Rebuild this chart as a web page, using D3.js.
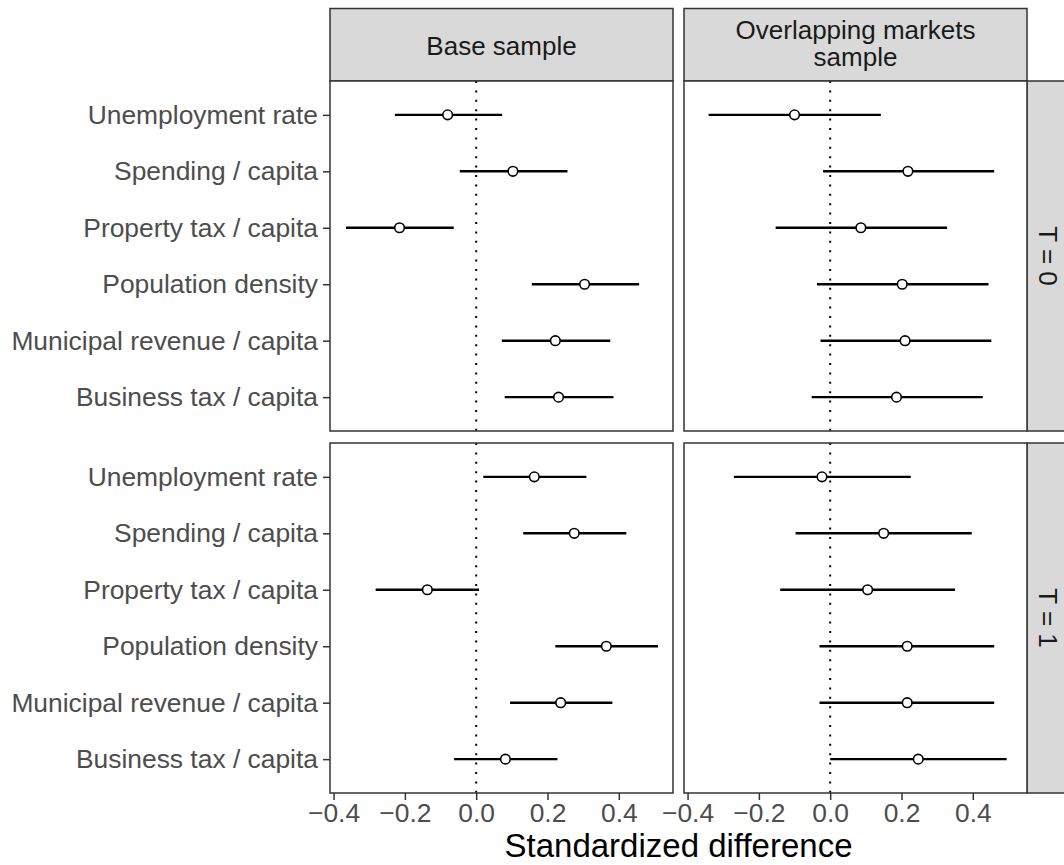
<!DOCTYPE html>
<html lang="en">
<head>
    <meta charset="UTF-8">
    <title>Standardized difference</title>
    <script src="https://cdnjs.cloudflare.com/ajax/libs/d3/7.8.5/d3.min.js"></script>
    <style>
        body { margin: 0; background: #ffffff; }
        text { font-family: "Liberation Sans", Arial, sans-serif; }
    </style>
</head>
<body>
    <script>
        // row labels (top to bottom)
        var categories = ["Unemployment rate", "Spending / capita", "Property tax / capita",
                          "Population density", "Municipal revenue / capita", "Business tax / capita"];
        var samples = [["Base sample"], ["Overlapping markets", "sample"]];
        var groups = ["T = 0", "T = 1"];
        var xTicks = [-0.4, -0.2, 0, 0.2, 0.4];

        // Base sample, T = 0
        var baseT0Est = [-0.080, 0.103, -0.215, 0.304, 0.222, 0.231];
        var baseT0Lo  = [-0.228, -0.046, -0.365, 0.156, 0.072, 0.080];
        var baseT0Hi  = [0.073, 0.256, -0.063, 0.457, 0.376, 0.385];
        // Overlapping markets sample, T = 0
        var overT0Est = [-0.100, 0.218, 0.086, 0.202, 0.210, 0.186];
        var overT0Lo  = [-0.341, -0.020, -0.153, -0.037, -0.027, -0.052];
        var overT0Hi  = [0.142, 0.460, 0.328, 0.444, 0.452, 0.428];
        // Base sample, T = 1
        var baseT1Est = [0.163, 0.275, -0.137, 0.365, 0.237, 0.082];
        var baseT1Lo  = [0.020, 0.132, -0.282, 0.222, 0.095, -0.062];
        var baseT1Hi  = [0.309, 0.421, 0.008, 0.510, 0.382, 0.228];
        // Overlapping markets sample, T = 1
        var overT1Est = [-0.023, 0.150, 0.105, 0.216, 0.216, 0.247];
        var overT1Lo  = [-0.270, -0.097, -0.140, -0.030, -0.030, 0.000];
        var overT1Hi  = [0.226, 0.397, 0.350, 0.460, 0.460, 0.495];

        // rows = groups (T), cols = samples
        var panels = [
            {row: 0, col: 0, est: baseT0Est, lo: baseT0Lo, hi: baseT0Hi},
            {row: 0, col: 1, est: overT0Est, lo: overT0Lo, hi: overT0Hi},
            {row: 1, col: 0, est: baseT1Est, lo: baseT1Lo, hi: baseT1Hi},
            {row: 1, col: 1, est: overT1Est, lo: overT1Lo, hi: overT1Hi}
        ];

        var W = 1064, H = 865;
        var colX = [330, 684], panelW = 343;
        var rowY = [81, 443], panelH = 350;
        var stripTop = 8.5, stripRightW = 44;

        var svg = d3.select("body").append("svg")
            .attr("width", W)
            .attr("height", H);

        var x = d3.scaleLinear().domain([-0.41, 0.552]).range([0, panelW]);
        var y = d3.scalePoint().domain(categories).range([0, panelH]).padding(0.6);

        // top strips
        samples.forEach(function(lines, c) {
            svg.append("rect")
                .attr("x", colX[c]).attr("y", stripTop)
                .attr("width", panelW).attr("height", rowY[0] - stripTop)
                .attr("fill", "#d9d9d9").attr("stroke", "#333333").attr("stroke-width", 1.5);
            var baselines = lines.length == 1 ? [54.5] : [38.5, 66];
            lines.forEach(function(l, i) {
                svg.append("text")
                    .attr("x", colX[c] + panelW / 2).attr("y", baselines[i])
                    .attr("text-anchor", "middle")
                    .style("font-size", "26px").attr("fill", "#1a1a1a")
                    .text(l);
            });
        });

        // right strips
        groups.forEach(function(g, r) {
            var sx = colX[1] + panelW;
            svg.append("rect")
                .attr("x", sx).attr("y", rowY[r])
                .attr("width", stripRightW).attr("height", panelH)
                .attr("fill", "#d9d9d9").attr("stroke", "#333333").attr("stroke-width", 1.5);
            svg.append("text")
                .attr("transform", "translate(" + (sx + 21) + "," + (rowY[r] + panelH / 2) + ") rotate(90)")
                .attr("text-anchor", "middle").attr("dy", "0.35em")
                .style("font-size", "26px").attr("fill", "#1a1a1a")
                .text(g);
        });

        panels.forEach(function(p) {
            var g = svg.append("g")
                .attr("transform", "translate(" + colX[p.col] + "," + rowY[p.row] + ")");
            g.append("rect")
                .attr("width", panelW).attr("height", panelH)
                .attr("fill", "#ffffff");
            // reference line at zero
            g.append("line")
                .attr("x1", x(0)).attr("x2", x(0))
                .attr("y1", 0).attr("y2", panelH)
                .attr("stroke", "#000000").attr("stroke-width", 2)
                .attr("stroke-dasharray", "2,7.4");
            // intervals
            g.selectAll(".ci").data(categories).enter().append("line")
                .attr("class", "ci")
                .attr("x1", function(d, i) { return x(p.lo[i]); })
                .attr("x2", function(d, i) { return x(p.hi[i]); })
                .attr("y1", function(d) { return y(d); })
                .attr("y2", function(d) { return y(d); })
                .attr("stroke", "#000000").attr("stroke-width", 2.4);
            // point estimates
            g.selectAll(".pt").data(categories).enter().append("circle")
                .attr("class", "pt")
                .attr("cx", function(d, i) { return x(p.est[i]); })
                .attr("cy", function(d) { return y(d); })
                .attr("r", 4.8)
                .attr("fill", "#ffffff").attr("stroke", "#000000").attr("stroke-width", 1.6);
            g.append("rect")
                .attr("width", panelW).attr("height", panelH)
                .attr("fill", "none").attr("stroke", "#333333").attr("stroke-width", 1.5);

            // y axis on left column
            if (p.col == 0) {
                var ya = g.append("g").call(d3.axisLeft(y).tickSize(7).tickPadding(5));
                styleAxis(ya);
            }
            // x axis on bottom row
            if (p.row == 1) {
                var xa = g.append("g")
                    .attr("transform", "translate(0," + panelH + ")")
                    .call(d3.axisBottom(x).tickValues(xTicks).tickFormat(d3.format(".1f")).tickSize(7).tickPadding(3));
                styleAxis(xa);
            }
        });

        function styleAxis(a) {
            a.select(".domain").remove();
            a.selectAll(".tick line").attr("stroke", "#333333").attr("stroke-width", 1.5);
            a.selectAll(".tick text")
                .attr("fill", "#4d4d4d")
                .style("font-size", "26.4px")
                .style("font-family", "'Liberation Sans', Arial, sans-serif");
        }

        // x axis title
        svg.append("text")
            .attr("x", (colX[0] + colX[1] + panelW) / 2)
            .attr("y", 857)
            .attr("text-anchor", "middle")
            .style("font-size", "33px")
            .attr("fill", "#000000")
            .text("Standardized difference");
    </script>
</body>
</html>
